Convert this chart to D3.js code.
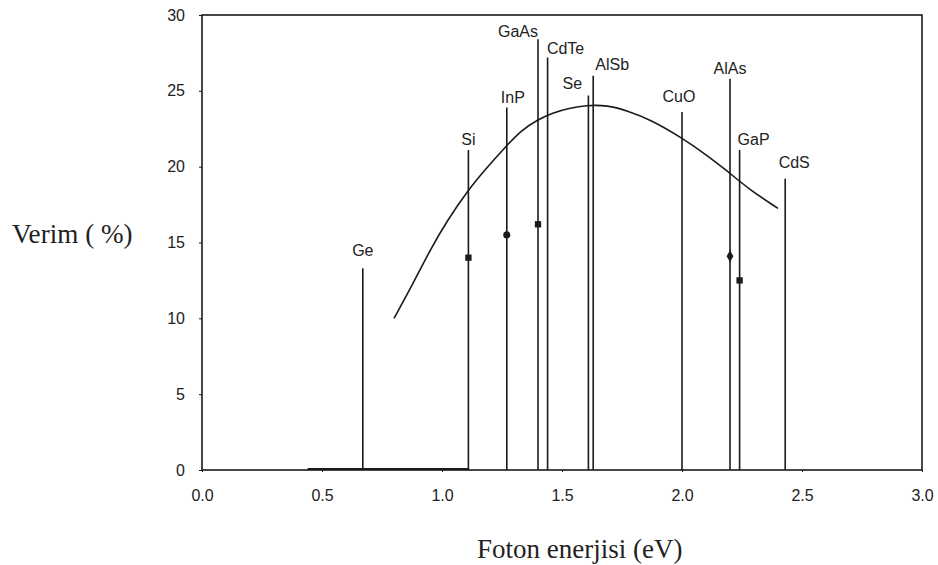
<!DOCTYPE html>
<html>
<head>
<meta charset="utf-8">
<script src="https://cdnjs.cloudflare.com/ajax/libs/d3/7.8.5/d3.min.js"></script>
<style>
body { margin: 0; background: #fff; }
svg text { fill: #222; }
.tick-lbl { font-family: "Liberation Sans", Arial, sans-serif; font-size: 16px; }
.mat-lbl { font-family: "Liberation Sans", Arial, sans-serif; font-size: 16px; }
.ttl { font-family: "Liberation Serif", "Times New Roman", serif; font-size: 27px; }
</style>
</head>
<body>
<svg id="canvas" width="938" height="565"></svg>
<script>

// semiconductors: name, band gap (eV), line height (%)
var materials = ['Ge', 'Si', 'InP', 'GaAs', 'CdTe', 'Se', 'AlSb', 'CuO', 'AlAs', 'GaP', 'CdS'];
var bandGaps = [0.67, 1.11, 1.27, 1.40, 1.44, 1.61, 1.63, 2.00, 2.20, 2.24, 2.43];
var lineTops = [13.3, 21.1, 23.9, 28.4, 27.2, 24.7, 26.0, 23.6, 25.8, 21.1, 19.2];

// measured efficiencies (markers)
var markerGaps = [1.11, 1.27, 1.40, 2.20, 2.24];
var markerEff = [14.0, 15.5, 16.2, 14.1, 12.5];
var markerShape = ['square', 'circle', 'square', 'diamond', 'square'];

// theoretical max efficiency curve
var curveE = [0.80, 0.88, 0.95, 1.02, 1.11, 1.19, 1.27, 1.33, 1.40, 1.46, 1.53, 1.60, 1.69, 1.77, 1.87, 2.00, 2.10, 2.19, 2.28, 2.40];
var curveEff = [10.0, 12.3, 14.5, 16.4, 18.5, 20.0, 21.4, 22.4, 23.1, 23.55, 23.85, 24.05, 24.05, 23.7, 23.1, 21.9, 20.8, 19.7, 18.5, 17.25];

var xTicks = [0, 0.5, 1.0, 1.5, 2.0, 2.5, 3.0];
var yTicks = [0, 5, 10, 15, 20, 25, 30];

// label offsets in px (dx from line, gap above line top)
var labelDx = [0, 0, 6, -20, 18, -16, 19, -3, 0, 14, 9];
var labelGap = [12, 5, 5, 2, 3, 6, 6, 10, 5, 5, 11];

var svg = d3.select('#canvas');
var x = d3.scaleLinear().domain([0, 3]).range([202, 922]);
var y = d3.scaleLinear().domain([0, 30]).range([470, 15]);
var ink = '#1a1a1a';

// frame
svg.append('rect')
  .attr('x', x(0)).attr('y', y(30))
  .attr('width', x(3) - x(0)).attr('height', y(0) - y(30))
  .attr('fill', 'none').attr('stroke', ink).attr('stroke-width', 1.6);

// axes (labels only, tiny ticks)
var xAxis = svg.append('g').attr('transform', 'translate(0,' + y(0) + ')')
  .call(d3.axisBottom(x).tickValues(xTicks).tickSize(2).tickPadding(18).tickFormat(d3.format('.1f')));
var yAxis = svg.append('g').attr('transform', 'translate(' + x(0) + ',0)')
  .call(d3.axisLeft(y).tickValues(yTicks).tickSize(3).tickPadding(14).tickFormat(d3.format('d')));
[xAxis, yAxis].forEach(function(a) {
  a.select('.domain').remove();
  a.selectAll('line').attr('stroke', ink);
  a.selectAll('text').attr('class', 'tick-lbl').style('fill', '#222');
});

// thicker baseline stretch
svg.append('line')
  .attr('x1', x(0.44)).attr('x2', x(1.11))
  .attr('y1', y(0) - 1).attr('y2', y(0) - 1)
  .attr('stroke', ink).attr('stroke-width', 2);

// band gap lines
svg.selectAll('.gap')
  .data(materials)
  .enter()
  .append('line')
  .attr('class', 'gap')
  .attr('x1', function(d, i) { return x(bandGaps[i]); })
  .attr('x2', function(d, i) { return x(bandGaps[i]); })
  .attr('y1', y(0))
  .attr('y2', function(d, i) { return y(lineTops[i]); })
  .attr('stroke', ink)
  .attr('stroke-width', 1.6);

svg.selectAll('.mat')
  .data(materials)
  .enter()
  .append('text')
  .attr('class', 'mat-lbl')
  .attr('text-anchor', 'middle')
  .attr('x', function(d, i) { return x(bandGaps[i]) + labelDx[i]; })
  .attr('y', function(d, i) { return y(lineTops[i]) - labelGap[i]; })
  .text(function(d) { return d; });

// curve
var line = d3.line()
  .x(function(d, i) { return x(curveE[i]); })
  .y(function(d, i) { return y(curveEff[i]); })
  .curve(d3.curveBasis);
svg.append('path')
  .datum(curveE)
  .attr('d', line)
  .attr('fill', 'none')
  .attr('stroke', ink)
  .attr('stroke-width', 1.6);

// markers
var symbols = { square: d3.symbolSquare, circle: d3.symbolCircle, diamond: d3.symbolDiamond };
svg.selectAll('.mk')
  .data(markerGaps)
  .enter()
  .append('path')
  .attr('class', 'mk')
  .attr('transform', function(d, i) { return 'translate(' + x(d) + ',' + y(markerEff[i]) + ')'; })
  .attr('d', function(d, i) { return d3.symbol().type(symbols[markerShape[i]]).size(40)(); })
  .attr('fill', ink);

// titles
svg.append('text').attr('class', 'ttl')
  .attr('transform', 'translate(12,243) scale(0.97,1)')
  .style('font-size', '28px')
  .text('Verim ( %)');
svg.append('text').attr('class', 'ttl')
  .attr('x', 477).attr('y', 558)
  .text('Foton enerjisi (eV)');

</script>
</body>
</html>
